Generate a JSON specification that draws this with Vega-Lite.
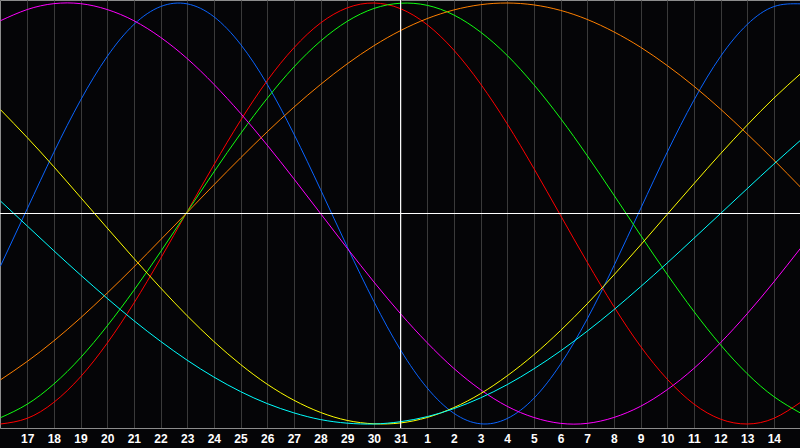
{
  "$schema": "https://vega.github.io/schema/vega-lite/v6.json",
  "width": 800,
  "height": 428,
  "autosize": "none",
  "padding": {"left": 0, "top": 0, "right": 0, "bottom": 20},
  "background": "#050507",
  "config": {
    "view": {"stroke": "#8c8c8c", "strokeWidth": 1},
    "axis": {
      "labelColor": "#ffffff",
      "labelFont": "Liberation Sans",
      "labelFontWeight": "bold",
      "labelFontSize": 12,
      "labelOverlap": false,
      "labelSeparation": 0
    }
  },
  "datasets": {
    "cycles": [
      {"cycle": "physical", "day": -15, "v": -0.249}, {"cycle": "physical", "day": -14, "v": 0.022}, {"cycle": "physical", "day": -13, "v": 0.291}, {"cycle": "physical", "day": -12, "v": 0.538}, {"cycle": "physical", "day": -11, "v": 0.746}, {"cycle": "physical", "day": -10, "v": 0.898}, {"cycle": "physical", "day": -9, "v": 0.983}, {"cycle": "physical", "day": -8, "v": 0.996}, {"cycle": "physical", "day": -7, "v": 0.935}, {"cycle": "physical", "day": -6, "v": 0.804}, {"cycle": "physical", "day": -5, "v": 0.614}, {"cycle": "physical", "day": -4, "v": 0.378}, {"cycle": "physical", "day": -3, "v": 0.114}, {"cycle": "physical", "day": -2, "v": -0.158}, {"cycle": "physical", "day": -1, "v": -0.418}, {"cycle": "physical", "day": 0, "v": -0.648}, {"cycle": "physical", "day": 1, "v": -0.829}, {"cycle": "physical", "day": 2, "v": -0.949}, {"cycle": "physical", "day": 3, "v": -0.999}, {"cycle": "physical", "day": 4, "v": -0.974}, {"cycle": "physical", "day": 5, "v": -0.878}, {"cycle": "physical", "day": 6, "v": -0.716}, {"cycle": "physical", "day": 7, "v": -0.501}, {"cycle": "physical", "day": 8, "v": -0.249}, {"cycle": "physical", "day": 9, "v": 0.022}, {"cycle": "physical", "day": 10, "v": 0.291}, {"cycle": "physical", "day": 11, "v": 0.538}, {"cycle": "physical", "day": 12, "v": 0.746}, {"cycle": "physical", "day": 13, "v": 0.898}, {"cycle": "physical", "day": 14, "v": 0.983}, {"cycle": "physical", "day": 15, "v": 0.996},
      {"cycle": "emotional", "day": -15, "v": -1.0}, {"cycle": "emotional", "day": -14, "v": -0.973}, {"cycle": "emotional", "day": -13, "v": -0.897}, {"cycle": "emotional", "day": -12, "v": -0.776}, {"cycle": "emotional", "day": -11, "v": -0.616}, {"cycle": "emotional", "day": -10, "v": -0.426}, {"cycle": "emotional", "day": -9, "v": -0.214}, {"cycle": "emotional", "day": -8, "v": 0.009}, {"cycle": "emotional", "day": -7, "v": 0.231}, {"cycle": "emotional", "day": -6, "v": 0.442}, {"cycle": "emotional", "day": -5, "v": 0.631}, {"cycle": "emotional", "day": -4, "v": 0.787}, {"cycle": "emotional", "day": -3, "v": 0.905}, {"cycle": "emotional", "day": -2, "v": 0.977}, {"cycle": "emotional", "day": -1, "v": 1.0}, {"cycle": "emotional", "day": 0, "v": 0.973}, {"cycle": "emotional", "day": 1, "v": 0.897}, {"cycle": "emotional", "day": 2, "v": 0.776}, {"cycle": "emotional", "day": 3, "v": 0.616}, {"cycle": "emotional", "day": 4, "v": 0.426}, {"cycle": "emotional", "day": 5, "v": 0.214}, {"cycle": "emotional", "day": 6, "v": -0.009}, {"cycle": "emotional", "day": 7, "v": -0.231}, {"cycle": "emotional", "day": 8, "v": -0.442}, {"cycle": "emotional", "day": 9, "v": -0.631}, {"cycle": "emotional", "day": 10, "v": -0.787}, {"cycle": "emotional", "day": 11, "v": -0.905}, {"cycle": "emotional", "day": 12, "v": -0.977}, {"cycle": "emotional", "day": 13, "v": -1.0}, {"cycle": "emotional", "day": 14, "v": -0.973}, {"cycle": "emotional", "day": 15, "v": -0.897},
      {"cycle": "intellectual", "day": -15, "v": -0.970}, {"cycle": "intellectual", "day": -14, "v": -0.906}, {"cycle": "intellectual", "day": -13, "v": -0.810}, {"cycle": "intellectual", "day": -12, "v": -0.685}, {"cycle": "intellectual", "day": -11, "v": -0.534}, {"cycle": "intellectual", "day": -10, "v": -0.365}, {"cycle": "intellectual", "day": -9, "v": -0.182}, {"cycle": "intellectual", "day": -8, "v": 0.008}, {"cycle": "intellectual", "day": -7, "v": 0.197}, {"cycle": "intellectual", "day": -6, "v": 0.379}, {"cycle": "intellectual", "day": -5, "v": 0.547}, {"cycle": "intellectual", "day": -4, "v": 0.696}, {"cycle": "intellectual", "day": -3, "v": 0.819}, {"cycle": "intellectual", "day": -2, "v": 0.913}, {"cycle": "intellectual", "day": -1, "v": 0.974}, {"cycle": "intellectual", "day": 0, "v": 0.999}, {"cycle": "intellectual", "day": 1, "v": 0.989}, {"cycle": "intellectual", "day": 2, "v": 0.943}, {"cycle": "intellectual", "day": 3, "v": 0.862}, {"cycle": "intellectual", "day": 4, "v": 0.751}, {"cycle": "intellectual", "day": 5, "v": 0.612}, {"cycle": "intellectual", "day": 6, "v": 0.452}, {"cycle": "intellectual", "day": 7, "v": 0.275}, {"cycle": "intellectual", "day": 8, "v": 0.088}, {"cycle": "intellectual", "day": 9, "v": -0.103}, {"cycle": "intellectual", "day": 10, "v": -0.289}, {"cycle": "intellectual", "day": 11, "v": -0.465}, {"cycle": "intellectual", "day": 12, "v": -0.624}, {"cycle": "intellectual", "day": 13, "v": -0.761}, {"cycle": "intellectual", "day": 14, "v": -0.870}, {"cycle": "intellectual", "day": 15, "v": -0.948},
      {"cycle": "intuitive", "day": -15, "v": 0.916}, {"cycle": "intuitive", "day": -14, "v": 0.969}, {"cycle": "intuitive", "day": -13, "v": 0.997}, {"cycle": "intuitive", "day": -12, "v": 0.997}, {"cycle": "intuitive", "day": -11, "v": 0.969}, {"cycle": "intuitive", "day": -10, "v": 0.916}, {"cycle": "intuitive", "day": -9, "v": 0.837}, {"cycle": "intuitive", "day": -8, "v": 0.736}, {"cycle": "intuitive", "day": -7, "v": 0.614}, {"cycle": "intuitive", "day": -6, "v": 0.476}, {"cycle": "intuitive", "day": -5, "v": 0.325}, {"cycle": "intuitive", "day": -4, "v": 0.165}, {"cycle": "intuitive", "day": -3, "v": 0.0}, {"cycle": "intuitive", "day": -2, "v": -0.165}, {"cycle": "intuitive", "day": -1, "v": -0.325}, {"cycle": "intuitive", "day": 0, "v": -0.476}, {"cycle": "intuitive", "day": 1, "v": -0.614}, {"cycle": "intuitive", "day": 2, "v": -0.736}, {"cycle": "intuitive", "day": 3, "v": -0.837}, {"cycle": "intuitive", "day": 4, "v": -0.916}, {"cycle": "intuitive", "day": 5, "v": -0.969}, {"cycle": "intuitive", "day": 6, "v": -0.997}, {"cycle": "intuitive", "day": 7, "v": -0.997}, {"cycle": "intuitive", "day": 8, "v": -0.969}, {"cycle": "intuitive", "day": 9, "v": -0.916}, {"cycle": "intuitive", "day": 10, "v": -0.837}, {"cycle": "intuitive", "day": 11, "v": -0.736}, {"cycle": "intuitive", "day": 12, "v": -0.614}, {"cycle": "intuitive", "day": 13, "v": -0.476}, {"cycle": "intuitive", "day": 14, "v": -0.325}, {"cycle": "intuitive", "day": 15, "v": -0.165},
      {"cycle": "aesthetic", "day": -15, "v": 0.493}, {"cycle": "aesthetic", "day": -14, "v": 0.361}, {"cycle": "aesthetic", "day": -13, "v": 0.222}, {"cycle": "aesthetic", "day": -12, "v": 0.077}, {"cycle": "aesthetic", "day": -11, "v": -0.069}, {"cycle": "aesthetic", "day": -10, "v": -0.213}, {"cycle": "aesthetic", "day": -9, "v": -0.353}, {"cycle": "aesthetic", "day": -8, "v": -0.486}, {"cycle": "aesthetic", "day": -7, "v": -0.608}, {"cycle": "aesthetic", "day": -6, "v": -0.717}, {"cycle": "aesthetic", "day": -5, "v": -0.811}, {"cycle": "aesthetic", "day": -4, "v": -0.887}, {"cycle": "aesthetic", "day": -3, "v": -0.945}, {"cycle": "aesthetic", "day": -2, "v": -0.983}, {"cycle": "aesthetic", "day": -1, "v": -0.999}, {"cycle": "aesthetic", "day": 0, "v": -0.995}, {"cycle": "aesthetic", "day": 1, "v": -0.969}, {"cycle": "aesthetic", "day": 2, "v": -0.922}, {"cycle": "aesthetic", "day": 3, "v": -0.856}, {"cycle": "aesthetic", "day": 4, "v": -0.771}, {"cycle": "aesthetic", "day": 5, "v": -0.671}, {"cycle": "aesthetic", "day": 6, "v": -0.556}, {"cycle": "aesthetic", "day": 7, "v": -0.429}, {"cycle": "aesthetic", "day": 8, "v": -0.292}, {"cycle": "aesthetic", "day": 9, "v": -0.150}, {"cycle": "aesthetic", "day": 10, "v": -0.004}, {"cycle": "aesthetic", "day": 11, "v": 0.141}, {"cycle": "aesthetic", "day": 12, "v": 0.284}, {"cycle": "aesthetic", "day": 13, "v": 0.420}, {"cycle": "aesthetic", "day": 14, "v": 0.548}, {"cycle": "aesthetic", "day": 15, "v": 0.664},
      {"cycle": "awareness", "day": -15, "v": -0.790}, {"cycle": "awareness", "day": -14, "v": -0.703}, {"cycle": "awareness", "day": -13, "v": -0.605}, {"cycle": "awareness", "day": -12, "v": -0.496}, {"cycle": "awareness", "day": -11, "v": -0.378}, {"cycle": "awareness", "day": -10, "v": -0.254}, {"cycle": "awareness", "day": -9, "v": -0.125}, {"cycle": "awareness", "day": -8, "v": 0.005}, {"cycle": "awareness", "day": -7, "v": 0.136}, {"cycle": "awareness", "day": -6, "v": 0.264}, {"cycle": "awareness", "day": -5, "v": 0.388}, {"cycle": "awareness", "day": -4, "v": 0.505}, {"cycle": "awareness", "day": -3, "v": 0.613}, {"cycle": "awareness", "day": -2, "v": 0.711}, {"cycle": "awareness", "day": -1, "v": 0.797}, {"cycle": "awareness", "day": 0, "v": 0.869}, {"cycle": "awareness", "day": 1, "v": 0.926}, {"cycle": "awareness", "day": 2, "v": 0.967}, {"cycle": "awareness", "day": 3, "v": 0.992}, {"cycle": "awareness", "day": 4, "v": 1.0}, {"cycle": "awareness", "day": 5, "v": 0.991}, {"cycle": "awareness", "day": 6, "v": 0.965}, {"cycle": "awareness", "day": 7, "v": 0.922}, {"cycle": "awareness", "day": 8, "v": 0.863}, {"cycle": "awareness", "day": 9, "v": 0.790}, {"cycle": "awareness", "day": 10, "v": 0.703}, {"cycle": "awareness", "day": 11, "v": 0.605}, {"cycle": "awareness", "day": 12, "v": 0.496}, {"cycle": "awareness", "day": 13, "v": 0.378}, {"cycle": "awareness", "day": 14, "v": 0.254}, {"cycle": "awareness", "day": 15, "v": 0.125},
      {"cycle": "spiritual", "day": -15, "v": 0.059}, {"cycle": "spiritual", "day": -14, "v": -0.059}, {"cycle": "spiritual", "day": -13, "v": -0.177}, {"cycle": "spiritual", "day": -12, "v": -0.292}, {"cycle": "spiritual", "day": -11, "v": -0.403}, {"cycle": "spiritual", "day": -10, "v": -0.509}, {"cycle": "spiritual", "day": -9, "v": -0.607}, {"cycle": "spiritual", "day": -8, "v": -0.697}, {"cycle": "spiritual", "day": -7, "v": -0.777}, {"cycle": "spiritual", "day": -6, "v": -0.846}, {"cycle": "spiritual", "day": -5, "v": -0.903}, {"cycle": "spiritual", "day": -4, "v": -0.947}, {"cycle": "spiritual", "day": -3, "v": -0.979}, {"cycle": "spiritual", "day": -2, "v": -0.996}, {"cycle": "spiritual", "day": -1, "v": -1.0}, {"cycle": "spiritual", "day": 0, "v": -0.989}, {"cycle": "spiritual", "day": 1, "v": -0.965}, {"cycle": "spiritual", "day": 2, "v": -0.927}, {"cycle": "spiritual", "day": 3, "v": -0.876}, {"cycle": "spiritual", "day": 4, "v": -0.813}, {"cycle": "spiritual", "day": 5, "v": -0.738}, {"cycle": "spiritual", "day": 6, "v": -0.653}, {"cycle": "spiritual", "day": 7, "v": -0.559}, {"cycle": "spiritual", "day": 8, "v": -0.457}, {"cycle": "spiritual", "day": 9, "v": -0.348}, {"cycle": "spiritual", "day": 10, "v": -0.235}, {"cycle": "spiritual", "day": 11, "v": -0.118}, {"cycle": "spiritual", "day": 12, "v": 0.0}, {"cycle": "spiritual", "day": 13, "v": 0.118}, {"cycle": "spiritual", "day": 14, "v": 0.235}, {"cycle": "spiritual", "day": 15, "v": 0.348}
    ]
  },
  "layer": [
    {
      "data": {"name": "cycles"},
      "mark": {"type": "line", "interpolate": "natural", "strokeWidth": 1, "clip": true},
      "encoding": {
        "x": {
          "field": "day",
          "type": "quantitative",
          "scale": {"domain": [-15.02, 14.98], "nice": false, "zero": false},
          "axis": {
            "title": null,
            "values": [-14, -13, -12, -11, -10, -9, -8, -7, -6, -5, -4, -3, -2, -1, 0, 1, 2, 3, 4, 5, 6, 7, 8, 9, 10, 11, 12, 13, 14],
            "labelExpr": "datum.value <= 0 ? 31 + datum.value : datum.value",
            "labelOverlap": false,
            "labelBound": false,
            "labelFlush": false,
            "grid": true,
            "gridColor": "#3a3a3a",
            "gridWidth": 1,
            "ticks": false,
            "domainColor": "#8c8c8c",
            "labelPadding": 5
          }
        },
        "y": {
          "field": "v",
          "type": "quantitative",
          "scale": {"domain": [-1.019, 1.0143], "nice": false, "zero": false},
          "axis": null
        },
        "color": {
          "field": "cycle",
          "type": "nominal",
          "scale": {
            "domain": ["physical", "emotional", "intellectual", "intuitive", "aesthetic", "awareness", "spiritual"],
            "range": ["#0a64ff", "#ff0000", "#10ff10", "#ff00ff", "#ffff00", "#ff8000", "#00ffff"]
          },
          "legend": null
        }
      }
    },
    {
      "data": {"values": [{"day": 0}]},
      "mark": {"type": "rule", "color": "#ffffff", "strokeWidth": 1},
      "encoding": {
        "x": {
          "field": "day",
          "type": "quantitative",
          "axis": {
            "title": null,
            "values": [-14, -13, -12, -11, -10, -9, -8, -7, -6, -5, -4, -3, -2, -1, 0, 1, 2, 3, 4, 5, 6, 7, 8, 9, 10, 11, 12, 13, 14],
            "labelExpr": "datum.value <= 0 ? 31 + datum.value : datum.value",
            "labelOverlap": false,
            "labelBound": false,
            "labelFlush": false,
            "grid": true,
            "gridColor": "#3a3a3a",
            "gridWidth": 1,
            "ticks": false,
            "domainColor": "#8c8c8c",
            "labelPadding": 5
          }
        }
      }
    },
    {
      "data": {"values": [{"v": 0}]},
      "mark": {"type": "rule", "color": "#ffffff", "strokeWidth": 1},
      "encoding": {"y": {"field": "v", "type": "quantitative", "axis": null}}
    }
  ]
}
